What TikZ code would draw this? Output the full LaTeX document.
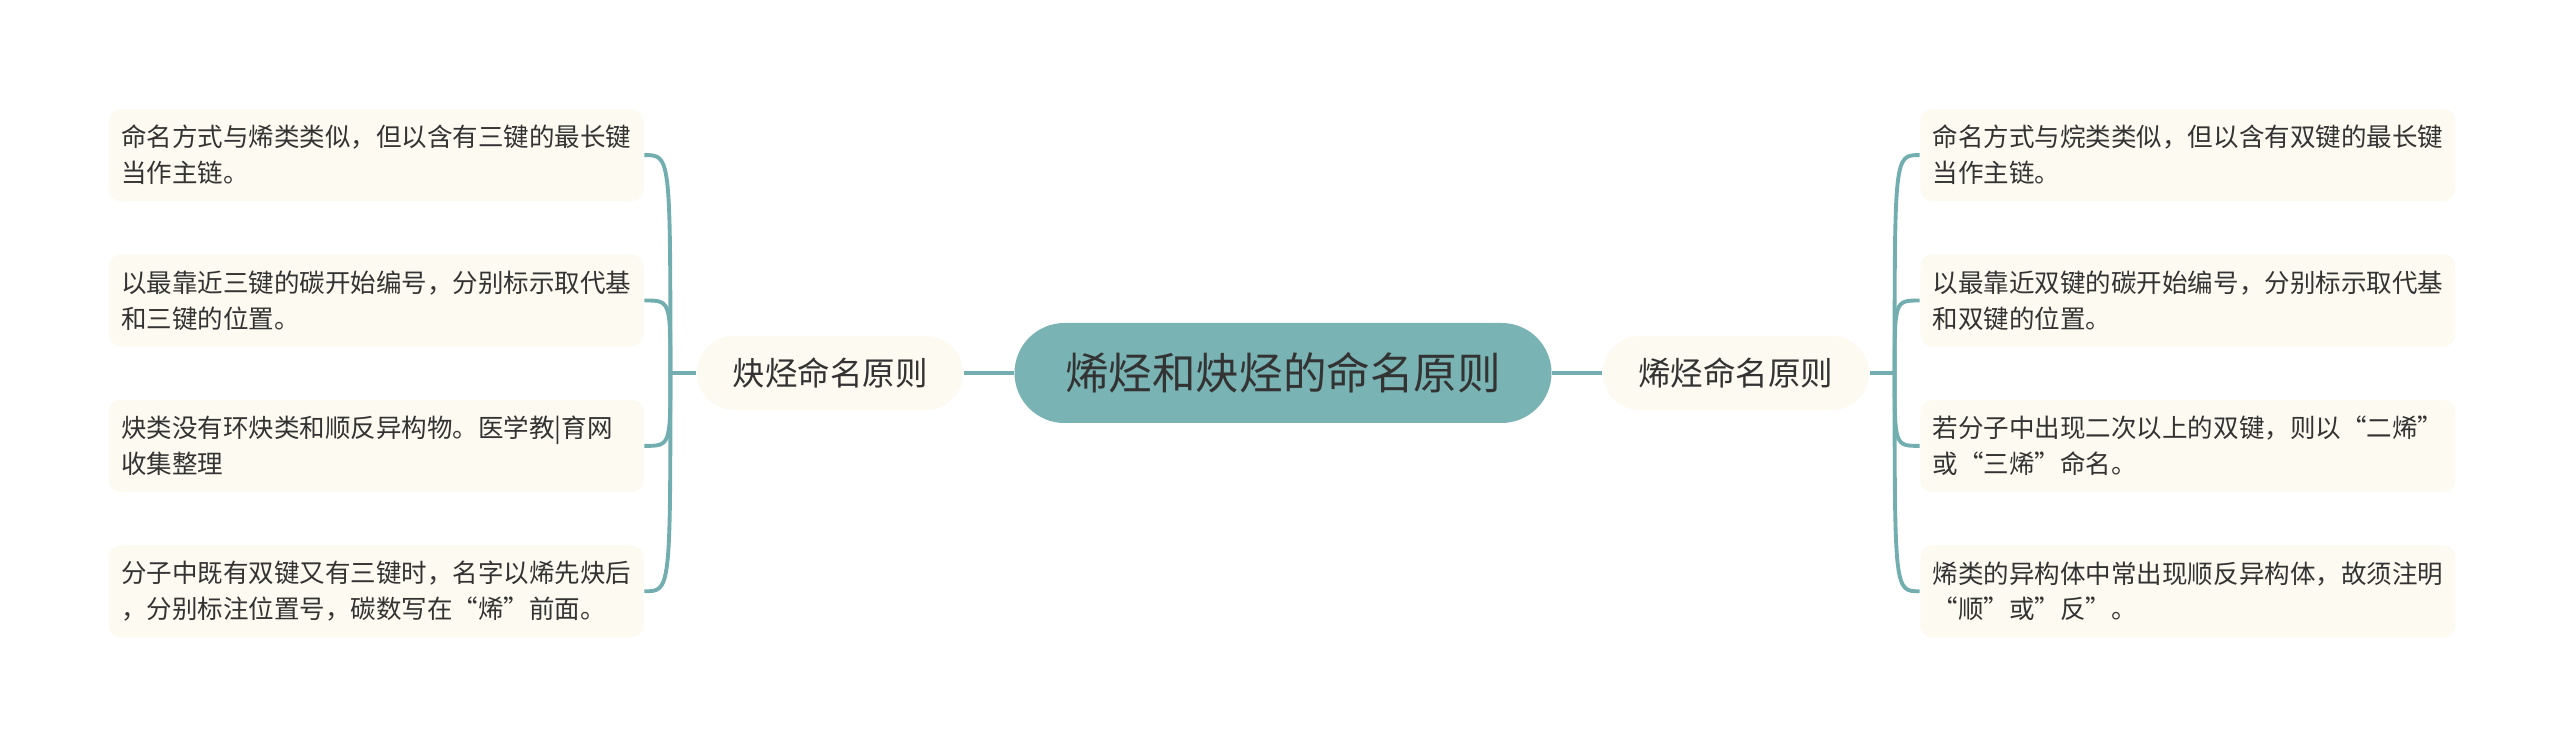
\documentclass[tikz,border=0pt]{standalone}
\usepackage{fontspec}
\newfontfamily\cjk{Noto Sans CJK SC}
\usetikzlibrary{positioning}
\definecolor{mapteal}{HTML}{7AB3B4}
\definecolor{mapline}{HTML}{72AEAF}
\definecolor{mapcream}{HTML}{FDFAF1}
\definecolor{maptext}{HTML}{333333}
\tikzset{
  root/.style={fill=mapteal, rounded corners=0.5cm, minimum width=5.37cm, minimum height=1.0cm,
    text=maptext, font=\cjk\fontsize{12.4}{14}\selectfont},
  topic/.style={fill=mapcream, rounded corners=0.37cm, minimum width=2.66cm, minimum height=0.74cm,
    text=maptext, font=\cjk\fontsize{9.25}{11}\selectfont},
  leaf/.style={fill=mapcream, rounded corners=0.12cm, text width=5.1cm, inner xsep=0.125cm,
    minimum height=0.92cm, align=left, text=maptext, font=\cjk\fontsize{7.26}{10.24}\selectfont},
  link/.style={draw=mapline, line width=1.1pt},
}
\begin{document}
\begin{tikzpicture}[node distance=0.52cm]
	  \fill[white] (0,0) rectangle (25.6,7.45);
	  \useasboundingbox (0,0) rectangle (25.6,7.45);
	  \node (root) [root] at (12.83,3.72) {烯烃和炔烃的命名原则};
	  \node (yne) [topic, left=0.50cm of root] {炔烃命名原则};
	  \node (ene) [topic, right=0.50cm of root] {烯烃命名原则};
	  % alkyne side
	  \node (y2) [leaf, left=0.52cm of yne, yshift=0.725cm] {以最靠近三键的碳开始编号，分别标示取代基\\和三键的位置。};
	  \node (y1) [leaf, above=of y2] {命名方式与烯类类似，但以含有三键的最长键\\当作主链。};
	  \node (y3) [leaf, below=of y2] {炔类没有环炔类和顺反异构物。医学教|育网\\收集整理};
	  \node (y4) [leaf, below=of y3] {分子中既有双键又有三键时，名字以烯先炔后\\，分别标注位置号，碳数写在“烯”前面。};
	  % alkene side
	  \node (e2) [leaf, right=0.50cm of ene, yshift=0.725cm] {以最靠近双键的碳开始编号，分别标示取代基\\和双键的位置。};
	  \node (e1) [leaf, above=of e2] {命名方式与烷类类似，但以含有双键的最长键\\当作主链。};
	  \node (e3) [leaf, below=of e2] {若分子中出现二次以上的双键，则以“二烯”\\或“三烯”命名。};
	  \node (e4) [leaf, below=of e3] {烯类的异构体中常出现顺反异构体，故须注明\\“顺”或”反”。};
	  \draw[link] (root) -- (yne);
	  \draw[link] (root) -- (ene);
	  \coordinate (yj) at ([xshift=-0.26cm]yne.west);
	  \coordinate (ej) at ([xshift=0.25cm]ene.east);
	  \draw[link] (yne.west) -- (yj);
	  \draw[link] (ene.east) -- (ej);
	  \foreach \n in {y1,y2,y3,y4}
	    \draw[link] (yj) .. controls (yj |- \n.east) .. (\n.east);
	  \foreach \n in {e1,e2,e3,e4}
	    \draw[link] (ej) .. controls (ej |- \n.west) .. (\n.west);
	\end{tikzpicture}
\end{document}
